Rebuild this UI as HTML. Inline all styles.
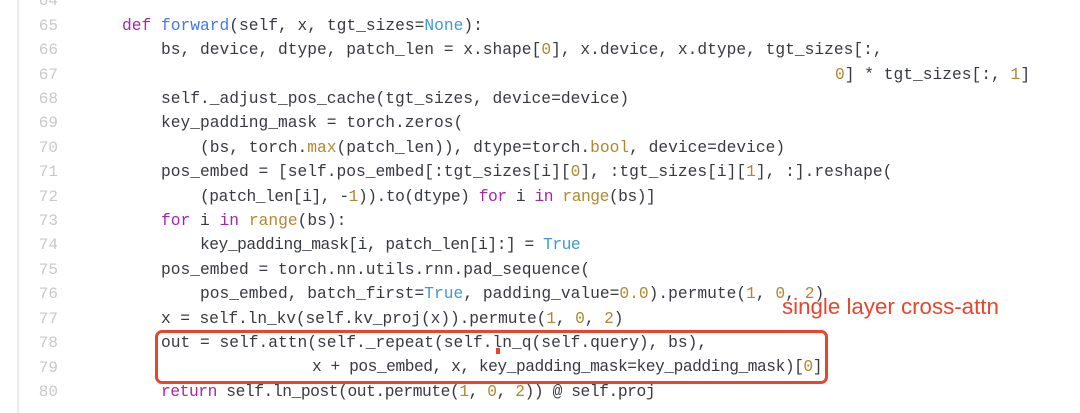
<!DOCTYPE html>
<html><head><meta charset="utf-8"><style>
body{margin:0;width:1080px;height:413px;background:#fff;overflow:hidden;position:relative;font-family:"Liberation Mono",monospace;}
.gut{position:absolute;left:17px;top:0;width:2px;height:413px;background:#ececec;}
.ln{position:absolute;left:20px;width:38px;text-align:right;color:#c8c8c8;font-size:16px;line-height:24.4px;}
.c{position:absolute;margin:0;font-size:16.25px;line-height:24.4px;height:24.4px;color:#383a42;white-space:pre;font-family:"Liberation Mono",monospace;}
.k{color:#a626a4}.f{color:#4078f2}.n{color:#b08830}.b{color:#3d9ad6}
.box{position:absolute;left:155px;top:330px;width:667px;height:48px;border:3px solid #e8452c;border-radius:7px;}
.lbl{position:absolute;left:782px;top:294px;font-family:"Liberation Sans",sans-serif;font-size:22.3px;color:#e8452c;}
.dot{position:absolute;left:496px;top:348px;width:4px;height:6px;background:#e8452c;}
</style></head><body>
<div class="gut"></div>
<div class="ln" style="top:-10.6px">64<br>65<br>66<br>67<br>68<br>69<br>70<br>71<br>72<br>73<br>74<br>75<br>76<br>77<br>78<br>79<br>80</div>
<div class="c" style="top:13.8px;left:122px"><span class="k">def</span> <span class="f">forward</span>(self, x, tgt_sizes=<span class="b">None</span>):</div>
<div class="c" style="top:38.2px;left:161px">bs, device, dtype, patch_len = x.shape[<span class="n">0</span>], x.device, x.dtype, tgt_sizes[:,</div>
<div class="c" style="top:62.6px;left:835px"><span class="n">0</span>] * tgt_sizes[:, <span class="n">1</span>]</div>
<div class="c" style="top:87px;left:161px">self._adjust_pos_cache(tgt_sizes, device=device)</div>
<div class="c" style="top:111.4px;left:161px">key_padding_mask = torch.zeros(</div>
<div class="c" style="top:135.8px;left:200px">(bs, torch.<span class="n">max</span>(patch_len)), dtype=torch.<span class="n">bool</span>, device=device)</div>
<div class="c" style="top:160.2px;left:161px">pos_embed = [self.pos_embed[:tgt_sizes[i][<span class="n">0</span>], :tgt_sizes[i][<span class="n">1</span>], :].reshape(</div>
<div class="c" style="top:184.6px;left:200px;letter-spacing:-0.46px">(patch_len[i], -<span class="n">1</span>)).to(dtype) <span class="k">for</span> i <span class="k">in</span> <span class="n">range</span>(bs)]</div>
<div class="c" style="top:209px;left:161px"><span class="k">for</span> i <span class="k">in</span> <span class="n">range</span>(bs):</div>
<div class="c" style="top:233.4px;left:200px;letter-spacing:-0.48px">key_padding_mask[i, patch_len[i]:] = <span class="b">True</span></div>
<div class="c" style="top:257.8px;left:161px">pos_embed = torch.nn.utils.rnn.pad_sequence(</div>
<div class="c" style="top:282.2px;left:200px">pos_embed, batch_first=<span class="b">True</span>, padding_value=<span class="n">0.0</span>).permute(<span class="n">1</span>, <span class="n">0</span>, <span class="n">2</span>)</div>
<div class="c" style="top:306.6px;left:161px;letter-spacing:-0.12px">x = self.ln_kv(self.kv_proj(x)).permute(<span class="n">1</span>, <span class="n">0</span>, <span class="n">2</span>)</div>
<div class="c" style="top:331px;left:161px">out = self.attn(self._repeat(self.ln_q(self.query), bs),</div>
<div class="c" style="top:355.4px;left:312px;letter-spacing:-0.48px">x + pos_embed, x, key_padding_mask=key_padding_mask)[<span class="n">0</span>]</div>
<div class="c" style="top:379.8px;left:161px;letter-spacing:-0.43px"><span class="k">return</span> self.ln_post(out.permute(<span class="n">1</span>, <span class="n">0</span>, <span class="n">2</span>)) @ self.proj</div>
<div class="box"></div>
<div class="dot"></div>
<div class="lbl">single layer cross-attn</div>
</body></html>
